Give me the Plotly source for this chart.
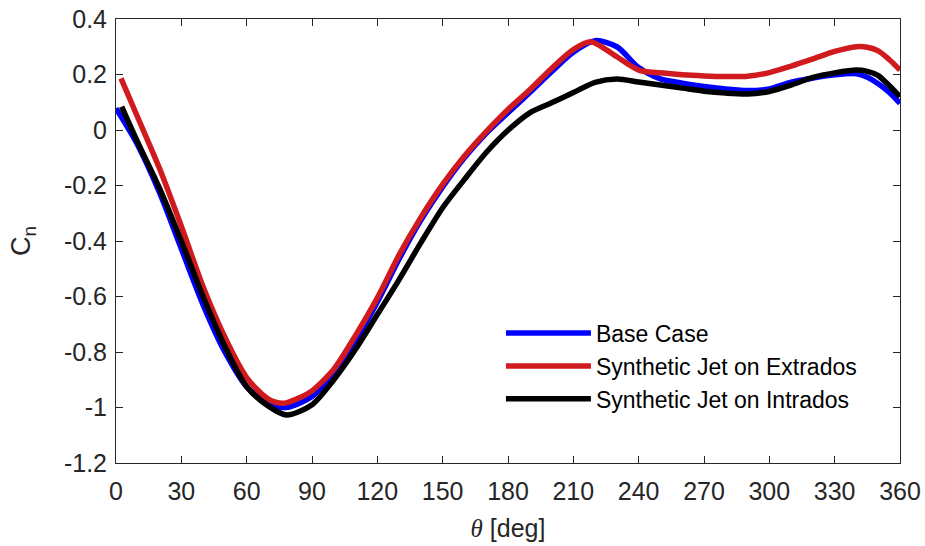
import plotly.graph_objects as go

theta_base = [0, 10, 20, 30, 40, 50, 60, 70, 78, 90, 100, 110, 120, 130, 140, 150, 160, 170, 180, 190,
              200, 210, 220, 230, 240, 250, 260, 270, 280, 290, 300, 310, 320, 330, 340, 345, 350, 355, 360]
cn_base = [0.078, -0.055, -0.226, -0.428, -0.63, -0.80, -0.925, -0.985, -1.0, -0.96, -0.875, -0.76, -0.62,
           -0.465, -0.325, -0.205, -0.10, -0.012, 0.062, 0.135, 0.21, 0.28, 0.322, 0.30, 0.225, 0.184,
           0.169, 0.157, 0.148, 0.142, 0.148, 0.172, 0.187, 0.199, 0.203, 0.19, 0.167, 0.136, 0.096]

theta_ext = [2.3, 10, 20, 30, 40, 50, 60, 70, 77, 85, 90, 100, 110, 120, 130, 140, 150, 160, 170, 180, 190,
             200, 210, 218, 225, 230, 240, 250, 260, 270, 280, 290, 300, 310, 320, 330, 340, 345, 350, 355, 360]
cn_ext = [0.186, 0.045, -0.139, -0.347, -0.565, -0.747, -0.892, -0.97, -0.985, -0.962, -0.94, -0.862, -0.74,
          -0.605, -0.45, -0.315, -0.196, -0.094, -0.006, 0.074, 0.145, 0.222, 0.29, 0.318, 0.29, 0.264,
          0.216, 0.206, 0.199, 0.195, 0.193, 0.194, 0.207, 0.23, 0.256, 0.283, 0.30, 0.298, 0.285, 0.254, 0.216]

theta_int = [2.6, 10, 20, 30, 40, 50, 60, 70, 78.4, 90, 100, 110, 120, 130, 140, 150, 160, 170, 180, 190,
             200, 210, 220, 230, 240, 250, 260, 270, 280, 290, 300, 310, 320, 330, 340, 345, 350, 355, 360]
cn_int = [0.084, -0.045, -0.21, -0.40, -0.60, -0.78, -0.925, -0.995, -1.027, -0.99, -0.90, -0.79, -0.665,
          -0.539, -0.406, -0.28, -0.178, -0.081, -0.001, 0.062, 0.098, 0.135, 0.172, 0.184, 0.173, 0.162,
          0.151, 0.14, 0.133, 0.13, 0.139, 0.162, 0.19, 0.206, 0.216, 0.211, 0.196, 0.16, 0.12]

x_ticks = [0, 30, 60, 90, 120, 150, 180, 210, 240, 270, 300, 330, 360]
y_ticks = [0.4, 0.2, 0, -0.2, -0.4, -0.6, -0.8, -1, -1.2]
y_labels = ["0.4", "0.2", "0", "-0.2", "-0.4", "-0.6", "-0.8", "-1", "-1.2"]

series = [
    ("Base Case", theta_base, cn_base, "#0000FF"),
    ("Synthetic Jet on Extrados", theta_ext, cn_ext, "#D01A1E"),
    ("Synthetic Jet on Intrados", theta_int, cn_int, "#000000"),
]

FONT = "Liberation Sans, Arial, Helvetica"
TXT = "#262626"

fig = go.Figure()
for name, x, y, c in series:
    fig.add_trace(go.Scatter(x=x, y=y, mode="lines", name=name,
                             line=dict(color=c, width=5.5, shape="spline", smoothing=0.8)))

axis_common = dict(showline=True, linecolor=TXT, linewidth=1, mirror="ticks", automargin=False,
                   ticks="inside", ticklen=7, tickcolor=TXT, showgrid=False, zeroline=False,
                   tickfont=dict(size=25, color=TXT, family=FONT))

fig.update_xaxes(range=[0, 360], tickvals=x_ticks, ticklabelstandoff=6,
                 title=dict(text="<span style='font-family:Liberation Serif, Times New Roman, serif'><i>θ</i></span> [deg]",
                            font=dict(size=25, color=TXT, family=FONT), standoff=15),
                 **axis_common)
fig.update_yaxes(range=[-1.2, 0.4], tickvals=y_ticks, ticktext=y_labels, ticklabelstandoff=3,
                 title=dict(text="C<sub>n</sub>", font=dict(size=27, color=TXT, family=FONT), standoff=25),
                 **axis_common)

fig.update_layout(
    width=925, height=546,
    margin=dict(l=116, r=25, t=19, b=83),
    plot_bgcolor="white", paper_bgcolor="white",
    font=dict(family=FONT, color=TXT),
    legend=dict(x=0.491, y=0.341, xanchor="left", yanchor="top",
                font=dict(size=23, color="#000000", family=FONT), bgcolor="rgba(255,255,255,0)",
                itemwidth=85, tracegroupgap=0),
    showlegend=True,
)

fig.write_html("out.html", config={"displayModeBar": False},
               post_script="document.body.style.margin='0';document.body.style.overflow='hidden';")
